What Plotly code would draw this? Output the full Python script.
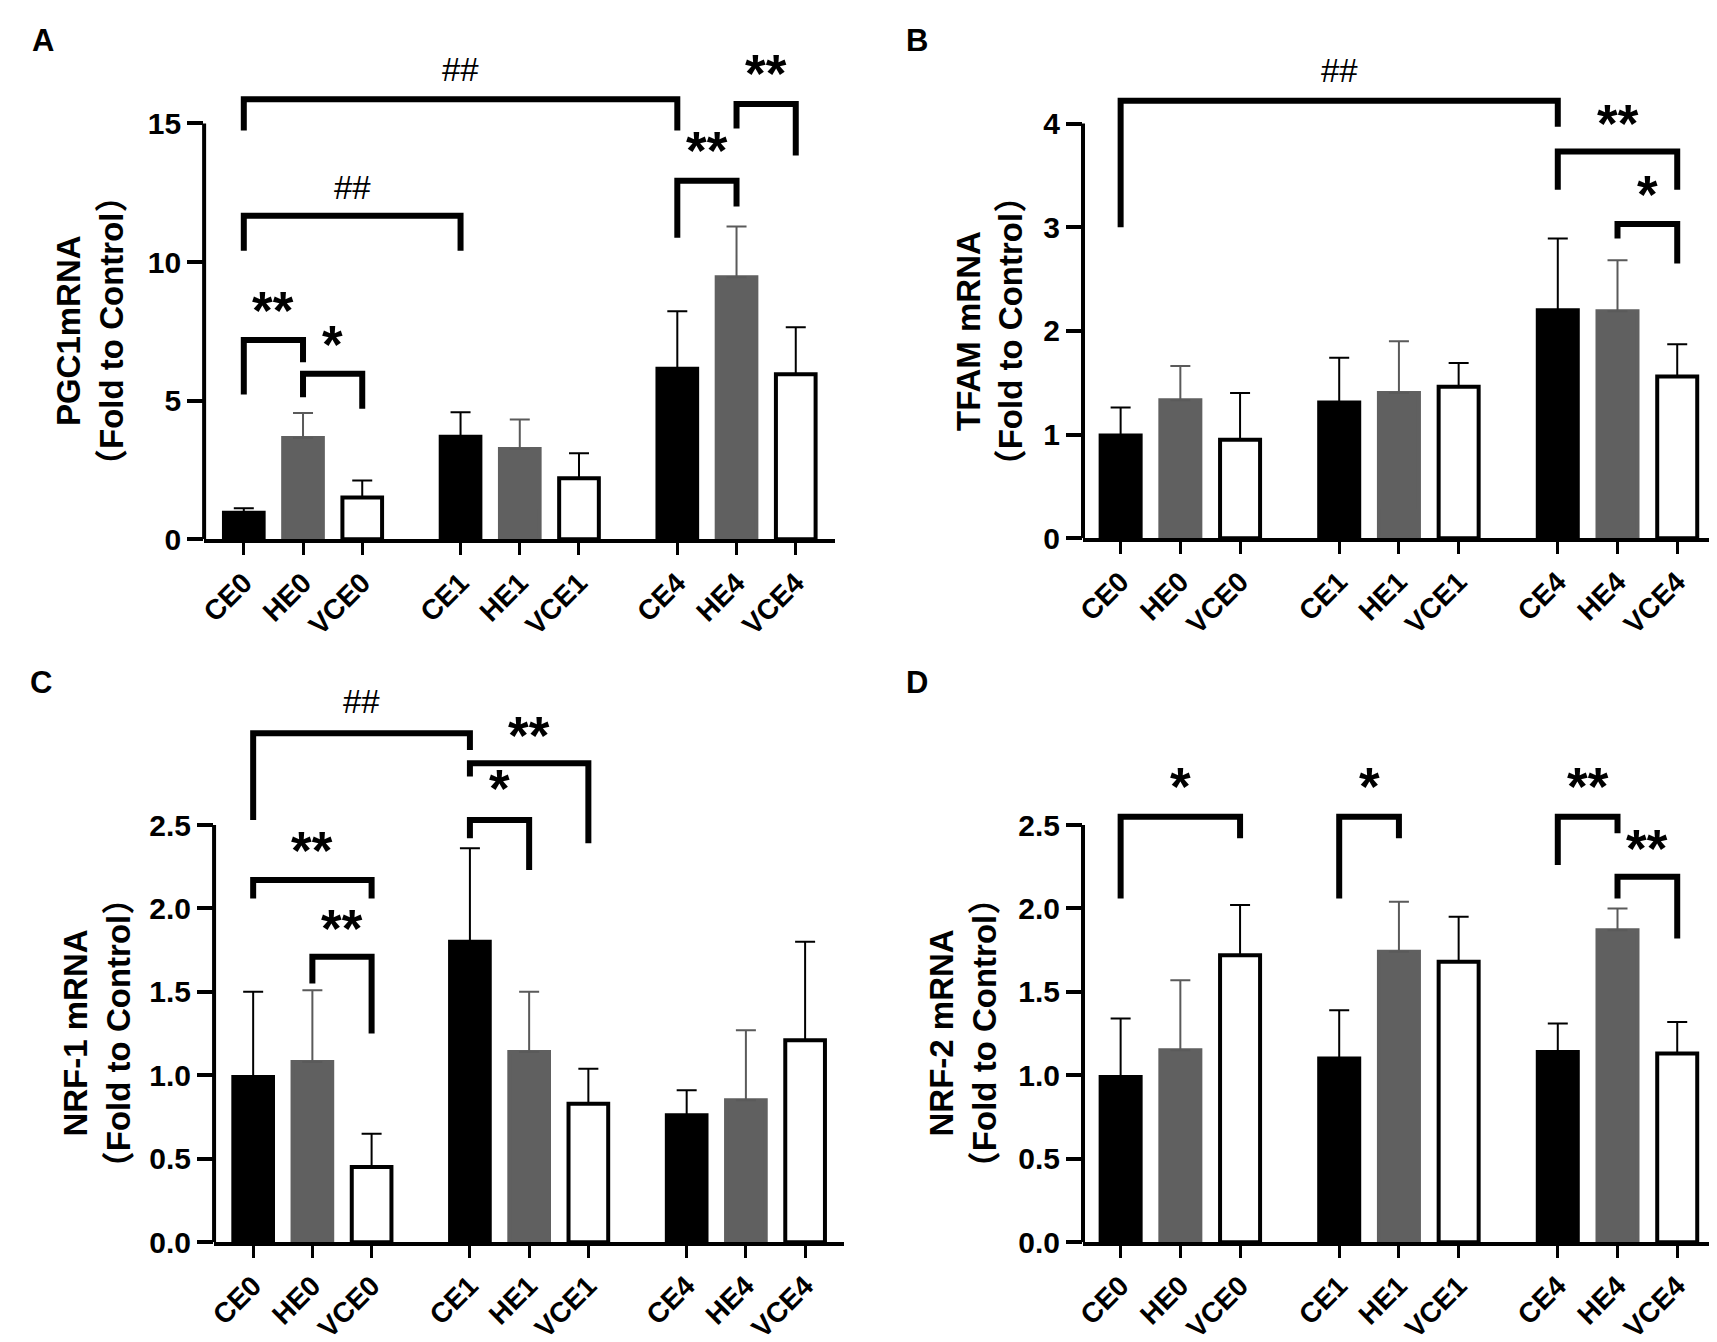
import plotly.graph_objects as go

# Bar chart data
categories = ["CE0", "HE0", "VCE0", "CE1", "HE1", "VCE1", "CE4", "HE4", "VCE4"]

pgc1_mean = [0.95, 3.65, 1.50, 3.70, 3.25, 2.20, 6.15, 9.45, 5.95]
pgc1_sd = [0.17, 0.90, 0.62, 0.88, 1.07, 0.90, 2.07, 1.83, 1.70]

tfam_mean = [0.99, 1.33, 0.95, 1.31, 1.40, 1.46, 2.20, 2.19, 1.56]
tfam_sd = [0.27, 0.33, 0.45, 0.43, 0.50, 0.23, 0.69, 0.49, 0.31]

nrf1_mean = [0.99, 1.08, 0.45, 1.80, 1.14, 0.83, 0.76, 0.85, 1.21]
nrf1_sd = [0.51, 0.43, 0.20, 0.56, 0.36, 0.21, 0.15, 0.42, 0.59]

nrf2_mean = [0.99, 1.15, 1.72, 1.10, 1.74, 1.68, 1.14, 1.87, 1.13]
nrf2_sd = [0.35, 0.42, 0.30, 0.29, 0.30, 0.27, 0.17, 0.13, 0.19]

# significance brackets: (from, to, bar y, left leg end, right leg end, label, label y)
pgc1_sig = [(0, 6, 15.87, 14.75, 14.75, "##", 16.95),
            (0, 3, 11.67, 10.41, 10.41, "##", 12.7),
            (0, 1, 7.19, 5.22, 6.38, "**", 8.14),
            (1, 2, 5.97, 5.12, 4.71, "*", 6.92),
            (6, 7, 12.93, 10.88, 12.0, "**", 13.9),
            (7, 8, 15.7, 14.82, 13.84, "**", 16.7)]
tfam_sig = [(0, 6, 4.22, 3.0, 3.97, "##", 4.51),
            (6, 8, 3.73, 3.36, 3.36, "**", 3.97),
            (7, 8, 3.03, 2.89, 2.65, "*", 3.29)]
nrf1_sig = [(0, 3, 3.05, 2.53, 2.95, "##", 3.24),
            (3, 5, 2.87, 2.79, 2.39, "**", 3.02),
            (3, 4, 2.53, 2.42, 2.23, "*", 2.70),
            (0, 2, 2.17, 2.06, 2.06, "**", 2.33),
            (1, 2, 1.71, 1.55, 1.25, "**", 1.86)]
nrf2_sig = [(0, 2, 2.55, 2.06, 2.42, "*", 2.71),
            (3, 4, 2.55, 2.06, 2.42, "*", 2.71),
            (6, 7, 2.55, 2.26, 2.45, "**", 2.71),
            (7, 8, 2.19, 2.06, 1.82, "**", 2.34)]

W, H = 1717, 1342
FONT = "Liberation Sans, Arial, Noto Sans CJK SC"
CJK = "Noto Sans CJK SC"

# x position of each category (three per day, with a gap between days)
positions = [g * 3.66 + m for g in range(3) for m in range(3)]

# panel layout in pixels: axis left/right, zero line, pixels per unit
panels = [
    dict(letter="A", title="PGC1mRNA", mean=pgc1_mean, sd=pgc1_sd, sig=pgc1_sig,
         left=189, step=59.5, xr=(-0.67, 9.98), y0=538, ppu=28.07, ytop=16.1,
         ticks=[0, 5, 10, 15], fmt="", tpos=(27, 33), tx=76),
    dict(letter="B", title="TFAM mRNA", mean=tfam_mean, sd=tfam_sd, sig=tfam_sig,
         left=1072, step=60, xr=(-0.63, 9.85), y0=537, ppu=105, ytop=4.3,
         ticks=[0, 1, 2, 3, 4], fmt="", tpos=(905, 33), tx=980),
    dict(letter="C", title="NRF-1 mRNA", mean=nrf1_mean, sd=nrf1_sd, sig=nrf1_sig,
         left=199, step=59.5, xr=(-0.66, 9.98), y0=1250, ppu=169, ytop=3.12,
         ticks=[0, 0.5, 1.0, 1.5, 2.0, 2.5], fmt=".1f", tpos=(25, 683), tx=83),
    dict(letter="D", title="NRF-2 mRNA", mean=nrf2_mean, sd=nrf2_sd, sig=nrf2_sig,
         left=1072, step=60, xr=(-0.63, 9.85), y0=1250, ppu=169, ytop=2.62,
         ticks=[0, 0.5, 1.0, 1.5, 2.0, 2.5], fmt=".1f", tpos=(905, 683), tx=953),
]

styles = [dict(fill="black", line="black", err="black"),
          dict(fill="#606060", line="#606060", err="#5a5a5a"),
          dict(fill="white", line="black", err="black")]

fig = go.Figure()
annotations = []
shapes = []
layout = {}

for k, p in enumerate(panels):
    n = "" if k == 0 else str(k + 1)
    xa, ya = "x" + n, "y" + n

    # bars: one trace per treatment so error bar colours can differ
    for m, st in enumerate(styles):
        idx = [g * 3 + m for g in range(3)]
        fig.add_trace(go.Bar(
            x=[positions[i] for i in idx],
            y=[p["mean"][i] for i in idx],
            width=0.67,
            marker=dict(color=st["fill"], line=dict(color=st["line"], width=4)),
            error_y=dict(type="data", symmetric=False,
                         array=[p["sd"][i] for i in idx],
                         arrayminus=[0, 0, 0],
                         color=st["err"], thickness=2, width=10),
            xaxis=xa, yaxis=ya, showlegend=False, hoverinfo="skip"))

    # significance brackets
    bx, by = [], []
    for a, b, top, la, lb, lab, ly in p["sig"]:
        bx += [positions[a], positions[a], positions[b], positions[b], None]
        by += [la, top, top, lb, None]
        star = "*" in lab
        # labels may sit above the axis range, so place them in domain units
        annotations.append(dict(
            x=(positions[a] + positions[b]) / 2, y=ly / p["ytop"],
            xref=xa, yref=ya + " domain",
            text=lab, showarrow=False, yanchor="middle",
            yshift=3 if star else 0,
            font=dict(family=FONT, size=53 if star else 33, color="black",
                      weight="bold" if star else "normal")))
    fig.add_trace(go.Scatter(x=bx, y=by, mode="lines",
                             line=dict(color="black", width=6),
                             xaxis=xa, yaxis=ya, showlegend=False,
                             hoverinfo="skip"))

    xlen = (p["xr"][1] - p["xr"][0]) * p["step"]
    top_px = p["y0"] - p["ytop"] * p["ppu"]
    layout["xaxis" + n] = dict(
        domain=[p["left"] / W, (p["left"] + xlen) / W], anchor=ya,
        range=list(p["xr"]), tickvals=positions, ticktext=categories,
        tickangle=-45, ticks="outside", ticklen=12, tickwidth=3,
        tickcolor="black", showline=True, linewidth=4, linecolor="black",
        showgrid=False, zeroline=False,
        tickfont=dict(family=FONT, size=28, color="black", weight="bold"))
    layout["yaxis" + n] = dict(
        domain=[1 - p["y0"] / H, 1 - top_px / H], anchor=xa,
        range=[0, p["ytop"]], tickvals=p["ticks"], tickformat=p["fmt"],
        ticks="outside", ticklen=16, tickwidth=4, tickcolor="black",
        showline=False, showgrid=False, zeroline=False,
        tickfont=dict(family=FONT, size=30, color="black", weight="bold"))

    # y axis line only over the tick span
    shapes.append(dict(type="line", xref=xa + " domain", yref=ya,
                       x0=0, x1=0, y0=0, y1=p["ticks"][-1],
                       line=dict(color="black", width=4)))

    # axis title, centred on the tick span
    mid = p["y0"] - p["ticks"][-1] * p["ppu"] / 2
    line2 = ('<span style="font-family:%s">（</span>Fold to Control'
             '<span style="font-family:%s">）</span>' % (CJK, CJK))
    annotations.append(dict(
        x=p["tx"] / W, y=1 - mid / H, xref="paper", yref="paper",
        text=p["title"] + "<br>" + line2, textangle=-90,
        showarrow=False, xanchor="center", yanchor="middle",
        font=dict(family=FONT, size=33, color="black", weight="bold")))

    # panel letter
    annotations.append(dict(
        x=p["tpos"][0] / W, y=1 - p["tpos"][1] / H, xref="paper", yref="paper",
        text=p["letter"], showarrow=False, xanchor="center", yanchor="middle",
        font=dict(family=FONT, size=31, color="black", weight="bold")))

fig.update_layout(
    width=W, height=H,
    margin=dict(l=0, r=0, t=0, b=0),
    paper_bgcolor="white", plot_bgcolor="white",
    barmode="overlay",
    annotations=annotations, shapes=shapes,
    **layout)

fig.write_html("out.html")
